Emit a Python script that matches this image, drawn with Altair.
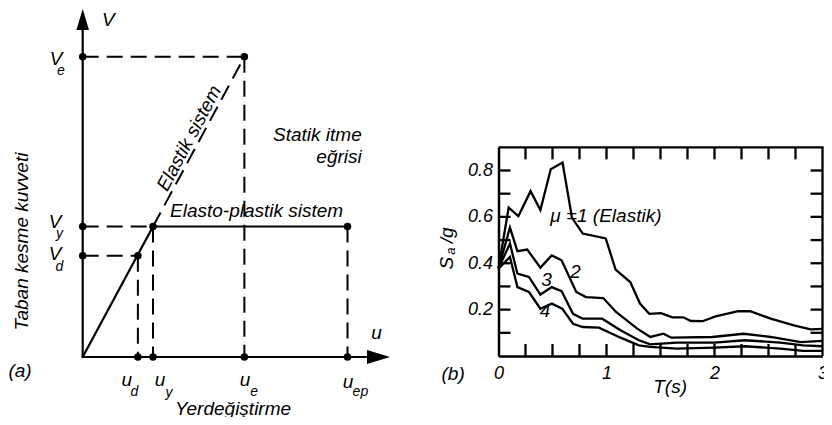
import altair as alt
import pandas as pd

# ---------------- Panel (a): idealised pushover (static push) curve ----------------
U_D, U_Y, U_E, U_EP = 0.785, 1.0, 2.3, 3.767     # displacements (u_d, u_y, u_e, u_ep)
V_D, V_Y, V_E = 0.775, 1.0, 2.3                  # base shears (V_d, V_y, V_e)
U_AXIS_END, U_ARROW = 4.06, 4.208                # end of u-axis line, arrow head
V_AXIS_END, V_ARROW = 2.52, 2.586                # end of V-axis line, arrow head

# ---------------- Panel (b): inelastic response spectra ----------------
T1 = [0, 0.094, 0.184, 0.297, 0.388, 0.484, 0.593, 0.68, 0.78, 0.993, 1.084, 1.22, 1.31,
      1.396, 1.505, 1.61, 1.71, 1.783, 1.89, 2.01, 2.22, 2.33, 2.52, 2.735, 2.89, 3.0]
S1 = [0.377, 0.64, 0.603, 0.711, 0.629, 0.805, 0.834, 0.597, 0.528, 0.507, 0.373, 0.319, 0.226,
      0.182, 0.185, 0.167, 0.167, 0.151, 0.15, 0.171, 0.193, 0.193, 0.161, 0.132, 0.115, 0.117]
T2 = [0, 0.106, 0.175, 0.266, 0.388, 0.493, 0.584, 0.72, 0.81, 0.97, 1.088, 1.285, 1.405,
      1.527, 1.6, 1.98, 2.27, 2.52, 2.8, 3.0]
S2 = [0.377, 0.554, 0.452, 0.459, 0.381, 0.434, 0.413, 0.276, 0.254, 0.25, 0.19, 0.118, 0.082,
      0.096, 0.079, 0.082, 0.096, 0.082, 0.06, 0.065]
T3 = [0, 0.106, 0.175, 0.282, 0.388, 0.493, 0.584, 0.69, 0.78, 0.96, 1.13, 1.3, 1.405, 1.65,
      2.0, 2.28, 2.61, 2.82, 3.0]
S3 = [0.377, 0.485, 0.355, 0.341, 0.265, 0.297, 0.28, 0.182, 0.161, 0.161, 0.111, 0.068, 0.05,
      0.058, 0.058, 0.068, 0.058, 0.046, 0.042]
T4 = [0, 0.106, 0.175, 0.282, 0.388, 0.493, 0.59, 0.69, 0.78, 0.93, 1.13, 1.3, 1.405, 1.65,
      2.0, 2.28, 2.61, 2.82, 3.0]
S4 = [0.377, 0.427, 0.297, 0.276, 0.204, 0.226, 0.204, 0.139, 0.125, 0.122, 0.079, 0.046, 0.039,
      0.032, 0.036, 0.042, 0.032, 0.022, 0.022]
MU = ["1", "2", "3", "4"]
T_MIN, T_MAX = 0.0, 3.0
S_MIN, S_MAX = 0.0, 0.9
X_LABELS = [0, 1, 2, 3]
Y_LABELS = [0.2, 0.4, 0.6, 0.8]
X_TICKS = [i * 0.25 for i in range(1, 12)]
Y_TICKS = [round(i * 0.1, 1) for i in range(1, 9)]
TICK_T, TICK_S = 0.111, 0.052        # inward tick length (≈12 px) in axis units

# ---------------- layout / style ----------------
W, H = 816, 409
FONT = "Liberation Sans"
INK = "#000000"
XA = alt.Scale(domain=[0, 1], range=[74.7, 145.0], nice=False, zero=False)
YA = alt.Scale(domain=[0, 1], range=[349.0, 218.5], nice=False, zero=False)
XB = alt.Scale(domain=[T_MIN, T_MAX], range=[490.5, 814.5], nice=False, zero=False)
YB = alt.Scale(domain=[S_MIN, S_MAX], range=[348.0, 139.3], nice=False, zero=False)

AX = dict(title=None, grid=False, domainColor=INK, domainWidth=2.5,
          ticks=False, labelColor=INK, labelFont=FONT, labelFontSize=18,
          labelFontStyle="italic", labelFlush=False, labelOverlap=False)
AX_B = alt.Axis(orient="bottom", offset=348.0 - H, values=X_LABELS, labelPadding=8,
                labelBound=False, format="d", **AX)
AX_L = alt.Axis(orient="left", offset=-490.5, values=Y_LABELS, labelPadding=6,
                format=".1f", **AX)


def ex(f, panel):
    if panel == "a":
        return alt.X(f, type="quantitative", scale=XA, axis=None)
    return alt.X(f, type="quantitative", scale=XB, axis=AX_B)


def ey(f, panel):
    if panel == "a":
        return alt.Y(f, type="quantitative", scale=YA, axis=None)
    return alt.Y(f, type="quantitative", scale=YB, axis=AX_L)


def text_layer(df, panel, xf="x", yf="y", **mk):
    style = dict(font=FONT, fontStyle="italic", color=INK, fontSize=19,
                 align="center", baseline="middle")
    style.update(mk)
    return alt.Chart(df).mark_text(**style).encode(
        x=ex(xf, panel), y=ey(yf, panel), text="t:N")


# ---------- panel (a) data ----------
dashed = pd.DataFrame({
    "x": [0, U_E, U_Y, 0, 0, U_D, U_Y, U_EP],
    "y": [V_E, V_E, V_Y, V_Y, V_D, V_D, V_Y, V_Y],
    "x2": [U_E, U_E, U_E, U_Y, U_D, U_D, U_Y, U_EP],
    "y2": [V_E, 0, V_E, V_Y, V_D, 0, 0, 0],
})
solid = pd.DataFrame({
    "x": [0, 0, 0, U_Y],
    "y": [0, 0, 0, V_Y],
    "x2": [0, U_AXIS_END, U_Y, U_EP],
    "y2": [V_AXIS_END, 0, V_Y, V_Y],
})
dots = pd.DataFrame({
    "x": [0, 0, 0, U_E, U_Y, U_D, U_EP, U_D, U_Y, U_E, U_EP],
    "y": [V_E, V_Y, V_D, V_E, V_Y, V_D, V_Y, 0, 0, 0, 0],
})
arrow_up = pd.DataFrame({"x": [0], "y": [V_ARROW]})
arrow_right = pd.DataFrame({"x": [U_ARROW], "y": [0]})

main_a = pd.DataFrame({
    "t": ["V", "V", "V", "V", "u", "u", "u", "u", "u", "(a)", "Yerdeğiştirme"],
    "x": [0.364, -0.38, -0.394, -0.394, 4.18, 0.626, 1.10, 2.309, 3.774, -0.892, 2.138],
    "y": [2.579, 2.284, 1.038, 0.793, 0.184, -0.176, -0.176, -0.176, -0.195, -0.107, -0.395],
})
sub_a = pd.DataFrame({
    "t": ["e", "y", "d", "d", "y", "e", "ep"],
    "x": [-0.309, -0.33, -0.33, 0.737, 1.228, 2.437, 3.95],
    "y": [2.192, 0.946, 0.69, -0.266, -0.276, -0.266, -0.272],
})
ylab_a = pd.DataFrame({"t": ["Taban kesme kuvveti"], "x": [-0.863], "y": [0.885]})
elastic_a = pd.DataFrame({"t": ["Elastik sistem"], "x": [1.64], "y": [1.64]})
right_a = pd.DataFrame({"t": ["Statik itme", "eğrisi"], "x": [3.969, 3.969], "y": [1.655, 1.484]})
left_a = pd.DataFrame({"t": ["Elasto-plastik sistem"], "x": [1.242], "y": [1.075]})

# ---------- panel (b) data: spectra + plot frame + inward ticks (all polylines) ----------
rows = []
for t_vals, s_vals, m in zip([T1, T2, T3, T4], [S1, S2, S3, S4], MU):
    for k, (t, s) in enumerate(zip(t_vals, s_vals)):
        rows.append({"T": t, "S": s, "g": "mu" + m, "k": k})
for k, (t, s) in enumerate([(T_MIN, S_MAX), (T_MAX, S_MAX), (T_MAX, S_MIN)]):
    rows.append({"T": t, "S": s, "g": "frame", "k": k})
for t in X_TICKS:
    rows += [{"T": t, "S": S_MAX, "g": f"top{t}", "k": 0},
             {"T": t, "S": S_MAX - TICK_S, "g": f"top{t}", "k": 1},
             {"T": t, "S": S_MIN, "g": f"bot{t}", "k": 0},
             {"T": t, "S": S_MIN + TICK_S, "g": f"bot{t}", "k": 1}]
for s in Y_TICKS:
    rows += [{"T": T_MIN, "S": s, "g": f"lft{s}", "k": 0},
             {"T": T_MIN + TICK_T, "S": s, "g": f"lft{s}", "k": 1},
             {"T": T_MAX, "S": s, "g": f"rgt{s}", "k": 0},
             {"T": T_MAX - TICK_T, "S": s, "g": f"rgt{s}", "k": 1}]
curves = pd.DataFrame(rows)

mu_label = pd.DataFrame({"t": ["μ =1 (Elastik)"], "T": [0.479], "S": [0.605]})
num_labels = pd.DataFrame({"t": ["2", "3", "4"], "T": [0.713, 0.445, 0.431],
                           "S": [0.363, 0.326, 0.195]})
ytitle_main = pd.DataFrame({"t": ["S", "/g"], "T": [-0.477, -0.477], "S": [0.40, 0.52]})
ytitle_sub = pd.DataFrame({"t": ["a"], "T": [-0.436], "S": [0.452]})
misc_b = pd.DataFrame({"t": ["(b)", "T(s)"], "T": [-0.42, 1.589], "S": [-0.076, -0.134]})

# ---------- panel (a) layers ----------
l_dashed = alt.Chart(dashed).mark_rule(color=INK, strokeWidth=2, strokeDash=[16, 8]).encode(
    x=ex("x", "a"), y=ey("y", "a"), x2="x2:Q", y2="y2:Q")
l_solid = alt.Chart(solid).mark_rule(color=INK, strokeWidth=2.2, strokeCap="round").encode(
    x=ex("x", "a"), y=ey("y", "a"), x2="x2:Q", y2="y2:Q")
l_dots = alt.Chart(dots).mark_point(filled=True, shape="circle", size=56, color=INK,
                                    opacity=1).encode(x=ex("x", "a"), y=ey("y", "a"))
l_arr_up = alt.Chart(arrow_up).mark_point(filled=True, shape="M0,-1L0.6,1L-0.6,1Z", size=441,
                                           color=INK, opacity=1).encode(
    x=ex("x", "a"), y=ey("y", "a"))
l_arr_rt = alt.Chart(arrow_right).mark_point(filled=True, shape="M1,0L-1,0.6L-1,-0.6Z",
                                              size=529, color=INK, opacity=1).encode(
    x=ex("x", "a"), y=ey("y", "a"))
panel_a = alt.layer(
    l_dashed, l_solid, l_dots, l_arr_up, l_arr_rt,
    text_layer(main_a, "a"),
    text_layer(sub_a, "a", fontSize=14),
    text_layer(ylab_a, "a", angle=270),
    text_layer(elastic_a, "a", baseline="alphabetic", angle=298, dy=-4),
    text_layer(right_a, "a", align="right", baseline="alphabetic"),
    text_layer(left_a, "a", align="left", baseline="alphabetic"),
)

# ---------- panel (b) layers ----------
l_curves = alt.Chart(curves).mark_line(color=INK, strokeWidth=2.3, strokeJoin="miter").encode(
    x=ex("T", "b"), y=ey("S", "b"), detail="g:N", order="k:Q")
panel_b = alt.layer(
    l_curves,
    text_layer(mu_label, "b", "T", "S", align="left"),
    text_layer(num_labels, "b", "T", "S"),
    text_layer(ytitle_main, "b", "T", "S", angle=270),
    text_layer(ytitle_sub, "b", "T", "S", angle=270, fontSize=13),
    text_layer(misc_b, "b", "T", "S"),
)

chart = alt.layer(panel_a, panel_b).resolve_scale(
    x="independent", y="independent"
).properties(
    width=W, height=H, padding=0, autosize=alt.AutoSizeParams(type="none"),
    background="white",
).configure_view(stroke=None)

chart.save("out.html", embed_options={"renderer": "svg", "actions": False})
